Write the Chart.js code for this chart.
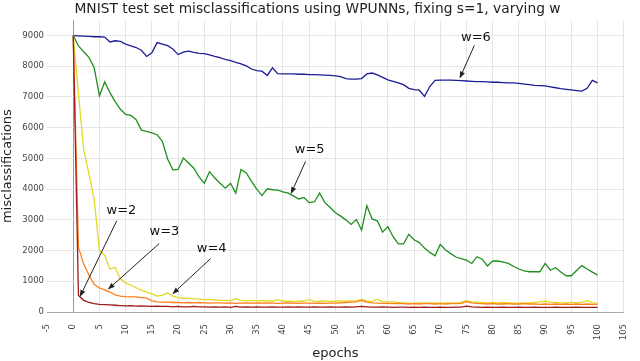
<!DOCTYPE html>
<html>
<head>
<meta charset="utf-8">
<script src="https://cdn.jsdelivr.net/npm/chart.js@4.4.0/dist/chart.umd.min.js"></script>
<style>
  html, body { margin: 0; padding: 0; background: #fff; }
</style>
</head>
<body>
<canvas id="myChart" width="640" height="361"></canvas>
<script>
'use strict';

// epochs 0..100
const epochs = [];
for (let i = 0; i <= 100; i++) epochs.push(i);

const yTickValues = [0, 1000, 2000, 3000, 4000, 5000, 6000, 7000, 8000, 9000];

const seriesNames = ["w=2", "w=3", "w=4", "w=5", "w=6"];
const seriesColors = ["#9e1a1a", "#ff7f1a", "#e2da22", "#1f8f1f", "#1c1c96"];

const w2 = [9000, 540, 380, 310, 270, 250, 240, 230, 220, 210,
  200, 210, 190, 200, 190, 180, 190, 180, 180, 170,
  180, 170, 170, 180, 170, 170, 160, 170, 160, 170,
  150, 180, 160, 170, 160, 170, 160, 160, 170, 160,
  160, 170, 160, 170, 160, 160, 170, 160, 160, 170,
  160, 160, 170, 160, 170, 180, 170, 160, 160, 170,
  160, 150, 160, 160, 150, 160, 150, 160, 150, 150,
  160, 150, 150, 160, 160, 190, 170, 160, 150, 160,
  150, 150, 160, 150, 150, 160, 150, 150, 160, 150,
  150, 150, 160, 150, 150, 150, 160, 150, 150, 150, 150];

const w3 = [9000, 2100, 1560, 1200, 900, 780, 720, 650, 560, 520,
  500, 490, 490, 470, 450, 360, 330, 320, 320, 310,
  310, 300, 310, 300, 310, 300, 290, 300, 300, 290,
  300, 280, 290, 300, 290, 300, 290, 300, 290, 280,
  290, 300, 290, 280, 290, 290, 280, 290, 280, 290,
  290, 300, 310, 320, 330, 380, 320, 300, 290, 280,
  280, 270, 280, 270, 260, 270, 260, 270, 270, 260,
  270, 260, 270, 270, 280, 340, 300, 280, 270, 260,
  270, 260, 260, 270, 260, 260, 270, 260, 260, 250,
  260, 250, 260, 250, 260, 250, 260, 250, 260, 250, 250];

const w4 = [9000, 7100, 5300, 4500, 3650, 2000, 1850, 1400, 1450, 1080,
  950, 870, 790, 710, 650, 590, 520, 540, 620, 520,
  470, 440, 450, 430, 420, 400, 410, 390, 380, 380,
  370, 430, 380, 370, 370, 360, 370, 360, 350, 400,
  350, 350, 340, 350, 350, 410, 340, 350, 360, 340,
  350, 360, 350, 360, 360, 410, 360, 340, 420, 340,
  330, 330, 310, 300, 280, 290, 300, 290, 300, 300,
  290, 300, 300, 290, 320, 370, 330, 320, 310, 300,
  310, 300, 310, 300, 290, 290, 300, 300, 310, 330,
  350, 320, 310, 300, 300, 320, 300, 320, 370, 300, 290];

const w5 = [9000, 8660, 8470, 8290, 7950, 7040, 7490, 7140, 6850, 6600,
  6430, 6400, 6260, 5920, 5880, 5830, 5770, 5560, 4980, 4630,
  4640, 5010, 4850, 4680, 4400, 4190, 4570, 4360, 4190, 4030,
  4190, 3870, 4640, 4530, 4250, 4000, 3790, 4010, 3980, 3970,
  3910, 3870, 3780, 3680, 3730, 3560, 3590, 3870, 3560, 3400,
  3230, 3120, 3000, 2850, 3010, 2670, 3460, 3030, 2970, 2600,
  2780, 2450, 2220, 2220, 2530, 2350, 2260, 2080, 1940, 1830,
  2200, 2020, 1900, 1790, 1740, 1690, 1580, 1800, 1720, 1500,
  1660, 1660, 1620, 1580, 1480, 1400, 1340, 1310, 1310, 1310,
  1580, 1360, 1440, 1300, 1180, 1180, 1350, 1510, 1400, 1300, 1200];

const w6 = [9000, 8990, 8980, 8970, 8960, 8960, 8950, 8790, 8830, 8810,
  8720, 8660, 8610, 8520, 8320, 8440, 8770, 8720, 8670, 8560,
  8380, 8460, 8490, 8450, 8420, 8410, 8370, 8320, 8280, 8220,
  8180, 8130, 8080, 8010, 7910, 7860, 7840, 7700, 7950, 7760,
  7750, 7750, 7750, 7740, 7740, 7730, 7730, 7720, 7710, 7700,
  7690, 7660, 7600, 7580, 7580, 7600, 7750, 7780, 7720, 7640,
  7560, 7510, 7460, 7400, 7280, 7240, 7220, 7020, 7340, 7540,
  7550, 7550, 7550, 7540, 7530, 7520, 7510, 7500, 7500, 7490,
  7480, 7480, 7470, 7460, 7460, 7440, 7420, 7400, 7380, 7370,
  7360, 7330, 7300, 7270, 7250, 7230, 7210, 7190, 7280, 7540, 7460];

const allSeries = [w2, w3, w4, w5, w6];

// annotation labels and arrows (data coordinates)
const noteLabels = ["w=2", "w=3", "w=4", "w=5", "w=6"];
const noteTextPos = [[9.2, 3300], [17.4, 2610], [26.4, 2050], [45.1, 5300], [76.8, 8920]];
const noteTail = [[8.3, 2970], [16.4, 2230], [26.2, 1740], [44.3, 4900], [76.5, 8680]];
const noteTip = [[1.25, 490], [6.6, 730], [18.9, 580], [41.5, 3840], [73.7, 7600]];

const FONT = "'DejaVu Sans', sans-serif";

const datasets = [];
for (let s = 0; s < allSeries.length; s++) {
    const pts = [];
    for (let i = 0; i < epochs.length; i++) {
        pts.push({ x: epochs[i], y: allSeries[s][i] });
    }
    datasets.push({
        label: seriesNames[s],
        data: pts,
        borderColor: seriesColors[s],
        borderWidth: 1.3,
        pointRadius: 0,
        tension: 0,
        fill: false
    });
}

const arrowPlugin = {
    id: 'arrows',
    afterDatasetsDraw(chart) {
        const ctx = chart.ctx;
        const xs = chart.scales.x;
        const ys = chart.scales.y;
        ctx.save();
        for (let i = 0; i < noteLabels.length; i++) {
            const tx = xs.getPixelForValue(noteTextPos[i][0]);
            const ty = ys.getPixelForValue(noteTextPos[i][1]);
            ctx.fillStyle = "#111";
            ctx.font = "13px " + FONT;
            ctx.textAlign = "center";
            ctx.textBaseline = "middle";
            ctx.fillText(noteLabels[i], tx, ty);

            const x1 = xs.getPixelForValue(noteTail[i][0]);
            const y1 = ys.getPixelForValue(noteTail[i][1]);
            const x2 = xs.getPixelForValue(noteTip[i][0]);
            const y2 = ys.getPixelForValue(noteTip[i][1]);
            const ang = Math.atan2(y2 - y1, x2 - x1);
            const len = 7, half = 2.6;
            const bx = x2 - len * Math.cos(ang);
            const by = y2 - len * Math.sin(ang);
            ctx.strokeStyle = "#222";
            ctx.lineWidth = 1;
            ctx.beginPath();
            ctx.moveTo(x1, y1);
            ctx.lineTo(bx, by);
            ctx.stroke();
            ctx.beginPath();
            ctx.moveTo(x2, y2);
            ctx.lineTo(bx + half * Math.sin(ang), by - half * Math.cos(ang));
            ctx.lineTo(bx - half * Math.sin(ang), by + half * Math.cos(ang));
            ctx.closePath();
            ctx.fillStyle = "#222";
            ctx.fill();
        }
        ctx.restore();
    }
};

const config = {
    type: 'line',
    data: { datasets: datasets },
    options: {
        responsive: false,
        animation: false,
        layout: { padding: { left: 0, right: 5, top: 0, bottom: 0 } },
        plugins: {
            legend: { display: false },
            tooltip: { enabled: false },
            title: {
                display: true,
                text: "MNIST test set misclassifications using WPUNNs, fixing s=1, varying w",
                color: "#222",
                font: { family: FONT, size: 13.8, weight: 'normal', lineHeight: 1.1 },
                padding: { top: 2, bottom: 3 }
            }
        },
        scales: {
            x: {
                type: 'linear',
                min: -5,
                max: 105,
                border: { display: false },
                grid: {
                    color: (c) => c.tick.value === 0 ? "#9a9a9a" : (c.tick.value === -5 ? "rgba(0,0,0,0)" : "#e6e6e6"),
                    lineWidth: 1,
                    tickLength: 6,
                    tickColor: "rgba(0,0,0,0)"
                },
                ticks: {
                    stepSize: 5,
                    autoSkip: false,
                    minRotation: 90,
                    maxRotation: 90,
                    padding: 6,
                    color: "#444",
                    font: { family: FONT, size: 8.5 }
                },
                title: {
                    display: true,
                    text: "epochs",
                    color: "#222",
                    font: { family: FONT, size: 13 },
                    padding: { top: 0, bottom: 0 }
                },
                afterFit: (scale) => { scale.height = 49; }
            },
            y: {
                type: 'linear',
                min: 0,
                max: 9500,
                border: { display: false },
                grid: {
                    color: (c) => c.tick.value === 0 ? "#a8a8a8" : "#e6e6e6",
                    lineWidth: 1,
                    drawTicks: false
                },
                afterBuildTicks: (axis) => {
                    axis.ticks = yTickValues.map(v => ({ value: v }));
                },
                ticks: {
                    autoSkip: false,
                    padding: 3,
                    color: "#444",
                    font: { family: FONT, size: 8.5 },
                    callback: (v) => String(v)
                },
                title: {
                    display: true,
                    text: "misclassifications",
                    color: "#222",
                    font: { family: FONT, size: 13 },
                    padding: { top: 0, bottom: 0 }
                },
                afterFit: (scale) => { scale.width = 47; }
            }
        }
    },
    plugins: [arrowPlugin]
};

const myChart = new Chart(document.getElementById('myChart'), config);
</script>
</body>
</html>
